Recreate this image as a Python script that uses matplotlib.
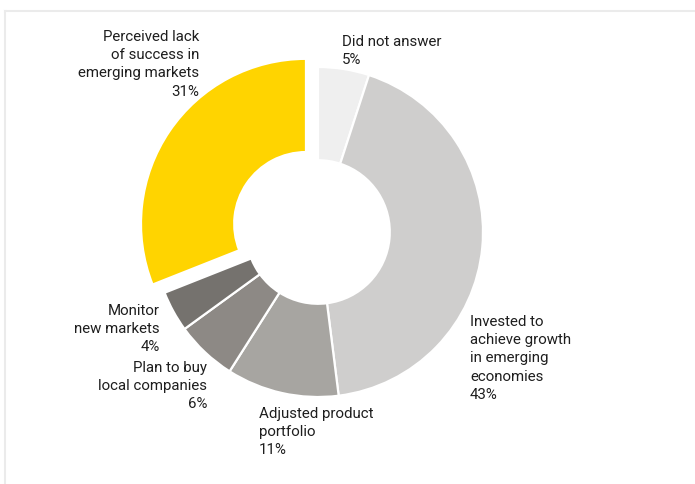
import matplotlib
matplotlib.use("Agg")
import matplotlib.pyplot as plt
from matplotlib.lines import Line2D

# Survey responses, clockwise from 12 o'clock
categories = [
    "Did not answer",
    "Invested to\nachieve growth\nin emerging\neconomies",
    "Adjusted product\nportfolio",
    "Plan to buy\nlocal companies",
    "Monitor\nnew markets",
    "Perceived lack\nof success in\nemerging markets",
]
shares = [5, 43, 11, 6, 4, 31]
colors = ["#efefef", "#cfcecd", "#a7a5a1", "#8d8985", "#75726e", "#ffd400"]

W, H = 695, 485
fig = plt.figure(figsize=(W / 100, H / 100), dpi=100)
ax = fig.add_axes([0, 0, 1, 1])

plt.rcParams["font.family"] = ["Roboto", "DejaVu Sans"]

cx, cy, R = 318, H - 233, 165
# offset of the highlighted wedge, in data units
explode = [0, 0, 0, 0, 0, 0.088 * R]
ax.pie(
    shares,
    colors=colors,
    explode=explode,
    startangle=90,
    counterclock=False,
    center=(cx, cy),
    radius=R,
    wedgeprops=dict(width=R * 0.565, edgecolor="white", linewidth=1.6),
)

ax.set_xlim(0, W)
ax.set_ylim(0, H)
ax.set_aspect("equal")
ax.axis("off")

# Light frame along top and left edges
frame_kw = dict(color="#ebebeb", linewidth=1.5, transform=ax.transData)
ax.add_line(Line2D([5, W], [H - 11.5, H - 11.5], **frame_kw))
ax.add_line(Line2D([5, 5], [0, H - 11.5], **frame_kw))

# Label anchors (x, top of text block, horizontal alignment)
label_pos = [
    (342, 35, "left"),
    (470, 315, "left"),
    (259, 407, "left"),
    (207, 361, "right"),
    (160, 304, "right"),
    (199, 30, "right"),
]
for name, val, (x, ytop, ha) in zip(categories, shares, label_pos):
    ax.text(
        x, H - ytop, f"{name}\n{val}%",
        ha=ha, va="top", fontsize=10.8, color="#1e1e1e",
        linespacing=1.38, multialignment=ha,
    )

fig.savefig("out.png", dpi=100)
